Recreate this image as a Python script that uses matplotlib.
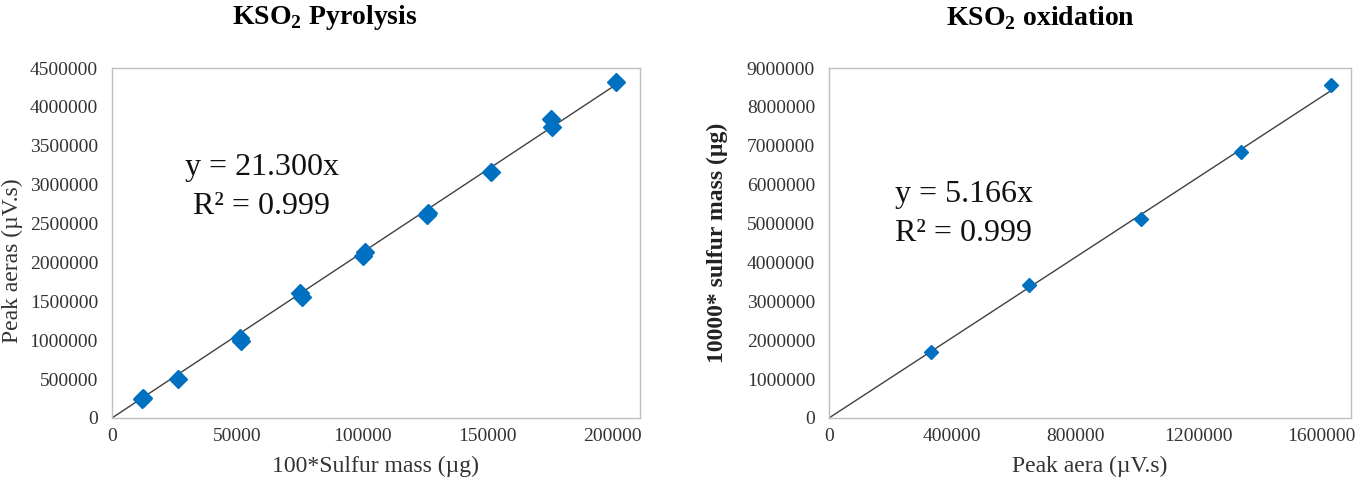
import numpy as np
import matplotlib
matplotlib.use('Agg')
import matplotlib.pyplot as plt
from matplotlib.ticker import FuncFormatter

plt.rcParams['font.family'] = ['Liberation Serif', 'DejaVu Serif']
plt.rcParams['mathtext.fontset'] = 'custom'
plt.rcParams['mathtext.rm'] = 'Liberation Serif'
plt.rcParams['mathtext.bf'] = 'Liberation Serif:bold'

# KSO2 pyrolysis: 100*sulfur mass (ug) vs peak area (uV.s)
pyro_mass = [12000, 12500, 26400, 51000, 51500, 75000, 76000, 100400, 101200,
             125600, 126000, 151300, 175100, 175700, 201200]
pyro_area = [240000, 255000, 495000, 1030000, 990000, 1605000, 1555000, 2080000, 2140000,
             2610000, 2640000, 3160000, 3840000, 3740000, 4320000]
pyro_slope = 21.300

# KSO2 oxidation: peak area (uV.s) vs 10000*sulfur mass (ug)
oxi_area = [332000, 649000, 1013000, 1336000, 1628000]
oxi_mass = [1700000, 3410000, 5110000, 6850000, 8560000]
oxi_slope = 5.166

blue = '#0070C0'
grey = '#BFBFBF'
txt = '#333333'

fig = plt.figure(figsize=(13.59, 4.95), dpi=100)

ax1 = fig.add_axes([0.0824, 0.1556, 0.3885, 0.707])
ax2 = fig.add_axes([0.610, 0.1556, 0.384, 0.707])

plain = FuncFormatter(lambda v, p: '%d' % v)


def style_axes(ax):
    for s in ax.spines.values():
        s.set_color(grey)
        s.set_linewidth(1.0)
    ax.tick_params(length=0, labelsize=14, colors=txt)
    ax.tick_params(axis='x', pad=7)
    ax.tick_params(axis='y', pad=10)
    ax.xaxis.set_major_formatter(plain)
    ax.yaxis.set_major_formatter(plain)


# left panel
xfit = np.array([0, max(pyro_mass)])
ax1.plot(xfit, pyro_slope * xfit, color='#404040', lw=1.0, zorder=2)
ax1.plot(pyro_mass, pyro_area, 'D', color=blue, ms=9, mec=blue, zorder=3)
ax1.set_xlim(0, 210800)
ax1.set_ylim(0, 4500000)
ax1.set_xticks([0, 50000, 100000, 150000, 200000])
ax1.set_yticks(np.arange(0, 4500001, 500000))
style_axes(ax1)
ax1.set_xlabel('100*Sulfur mass (µg)', fontsize=17, color=txt, labelpad=8)
ax1.set_ylabel('Peak aeras (µV.s)', fontsize=17, color=txt)
ax1.yaxis.set_label_coords(-0.1686, 0.45)
ax1.text(0.284, 0.66, 'y = 21.300x\nR² = 0.999', transform=ax1.transAxes,
         fontsize=23, ha='center', va='center', linespacing=1.45, color='#111111')

# right panel
xfit2 = np.array([0, max(oxi_area)])
ax2.plot(xfit2, oxi_slope * xfit2, color='#404040', lw=1.0, zorder=2)
ax2.plot(oxi_area, oxi_mass, 'D', color=blue, ms=7, mec=blue, zorder=3)
ax2.set_xlim(0, 1694000)
ax2.set_ylim(0, 9000000)
ax2.set_xticks([0, 400000, 800000, 1200000, 1600000])
ax2.set_yticks(np.arange(0, 9000001, 1000000))
style_axes(ax2)
ax2.set_xlabel('Peak aera (µV.s)', fontsize=17, color=txt, labelpad=8)
ax2.set_ylabel('10000* sulfur mass (µg)', fontsize=17, fontweight='bold', color='#222222')
ax2.yaxis.set_label_coords(-0.193, 0.5)
ax2.text(0.126, 0.583, 'y = 5.166x\nR² = 0.999', transform=ax2.transAxes,
         fontsize=23, ha='left', va='center', linespacing=1.45, color='#111111')

fig.text(325 / 1359, 1 - 18 / 495, r'KSO$_\mathbf{2}$ Pyrolysis', fontsize=20, fontweight='bold',
         ha='center', va='center')
fig.text(1040 / 1359, 1 - 18 / 495, r'KSO$_\mathbf{2}$ oxidation', fontsize=20, fontweight='bold',
         ha='center', va='center')

fig.savefig('out.png', dpi=100)
